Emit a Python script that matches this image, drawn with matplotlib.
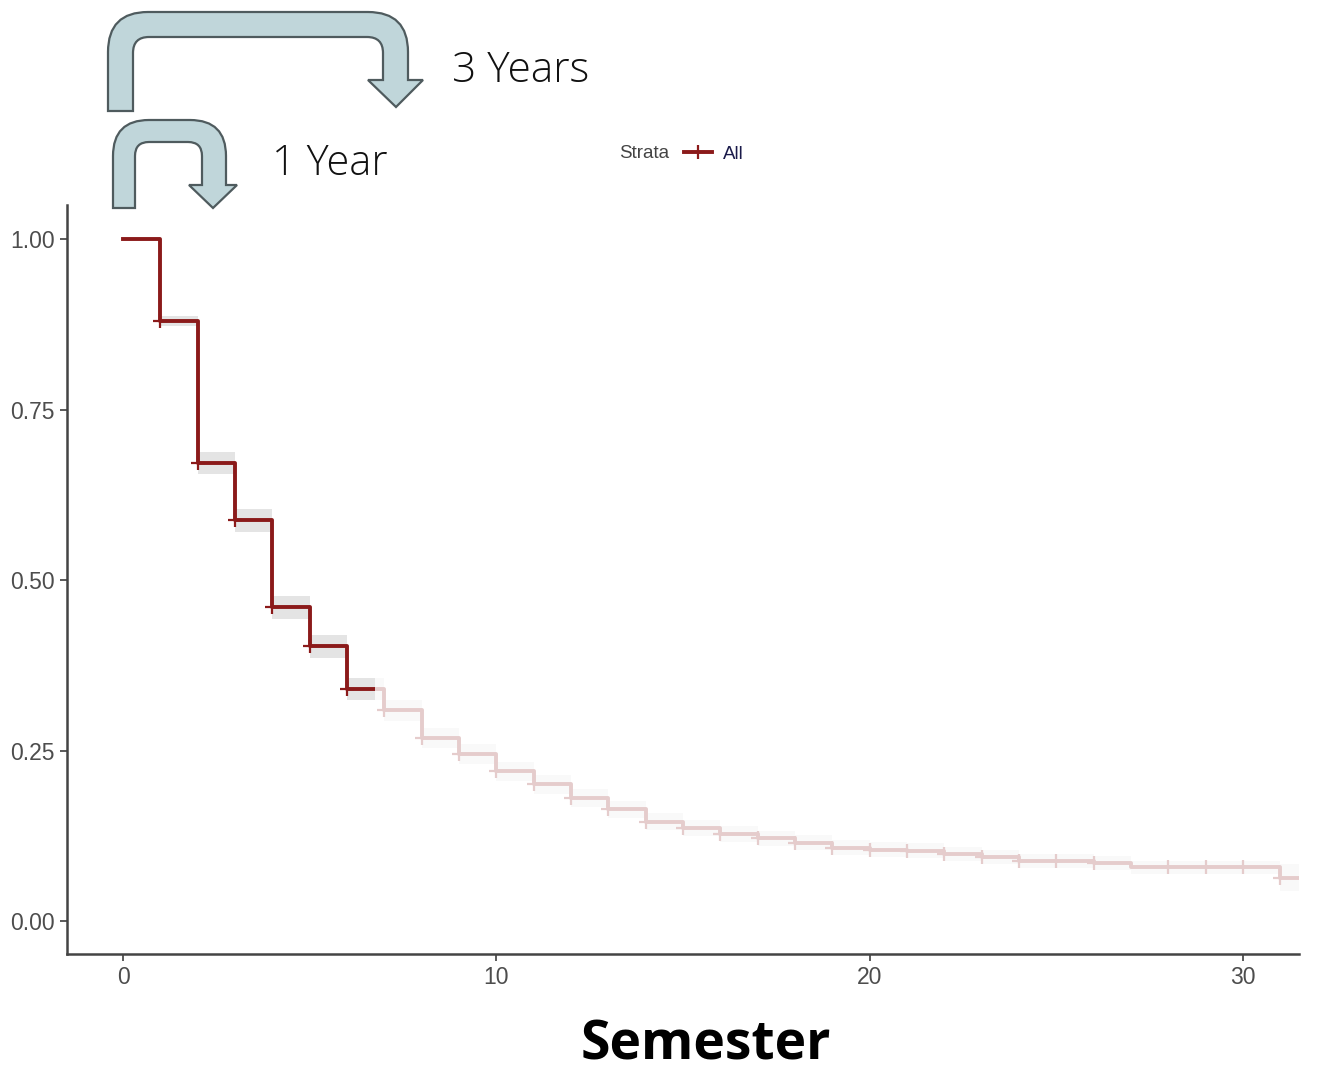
import matplotlib.pyplot as plt
import numpy as np
from matplotlib.path import Path
from matplotlib.patches import PathPatch
from matplotlib.lines import Line2D

# Kaplan-Meier estimate per semester
times = [0, 1, 2, 3, 4, 5, 6, 7, 8, 9, 10, 11, 12, 13, 14, 15,
         16, 17, 18, 19, 20, 21, 22, 23, 24, 25, 26, 27, 28, 29, 30, 31]
surv = [1.00, 0.880, 0.672, 0.588, 0.460, 0.403, 0.340, 0.309, 0.269, 0.245,
        0.220, 0.201, 0.181, 0.164, 0.146, 0.137, 0.128, 0.122, 0.115, 0.108,
        0.105, 0.103, 0.099, 0.094, 0.088, 0.088, 0.085, 0.079, 0.079, 0.079,
        0.079, 0.064]
ci_half = [0.0, 0.007, 0.016, 0.017, 0.017, 0.017, 0.016, 0.016, 0.015, 0.015,
           0.014, 0.014, 0.013, 0.013, 0.012, 0.012, 0.012, 0.011, 0.011, 0.011,
           0.011, 0.011, 0.010, 0.010, 0.010, 0.010, 0.010, 0.010, 0.010, 0.010,
           0.010, 0.020]
censor_times = [1, 2, 3, 4, 5, 6, 7, 8, 9, 10, 11, 12, 13, 14, 15, 16, 17, 18,
                19, 20, 21, 22, 23, 24, 25, 26, 28, 29, 30, 31]
t_end = 31.5
fade_start = 6.75

xticks = [0, 10, 20, 30]
yticks = [0.00, 0.25, 0.50, 0.75, 1.00]
ytick_labels = ['0.00', '0.25', '0.50', '0.75', '1.00']

W, H = 1320, 1074
line_col = '#8b1a1a'
tick_col = '#4d4d4d'

fig = plt.figure(figsize=(W / 100, H / 100), dpi=100)
ax = fig.add_axes([67 / W, 1 - 954 / H, (1299 - 67) / W, (954 - 205) / H])

t = np.array(times + [t_end])
s = np.array(surv + [surv[-1]])
h = np.array(ci_half + [ci_half[-1]])
ax.fill_between(t, s - h, s + h, step='post', color='#e4e4e4', lw=0, zorder=1)
ax.step(t, s, where='post', color=line_col, lw=2.8, zorder=2, label='All')
cs = [surv[times.index(c)] for c in censor_times]
ax.plot(censor_times, cs, ls='none', marker='+', ms=10, mew=1.6,
        color=line_col, zorder=2)

# faded part after 3 years
ax.axvspan(fade_start, t_end + 1, facecolor='white', alpha=0.78, lw=0, zorder=3)

ax.set_xlim(-1.5, t_end)
ax.set_ylim(-0.048, 1.05)
ax.set_xticks(xticks)
ax.set_yticks(yticks, ytick_labels)
for sp in ['top', 'right']:
    ax.spines[sp].set_visible(False)
for sp in ['left', 'bottom']:
    ax.spines[sp].set_color('#444444')
    ax.spines[sp].set_linewidth(1.8)
    ax.spines[sp].set_zorder(10)
ax.tick_params(colors=tick_col, length=5, width=1.3, labelsize=16.5,
               labelcolor=tick_col, pad=4)
for lab in ax.get_xticklabels() + ax.get_yticklabels():
    lab.set_family('Liberation Sans')

# legend
fig.text(619 / W, 1 - 154 / H, 'Strata', fontsize=13.5, color='#444444',
         va='center', ha='left', family='Liberation Sans')
handle = Line2D([], [], color=line_col, lw=2.8, marker='+', ms=10, mew=1.6)
fig.legend([handle], ['All'], loc='center left',
           bbox_to_anchor=(684 / W, 1 - 154 / H), frameon=False,
           handlelength=1.5, handletextpad=0.6, borderpad=0,
           borderaxespad=0, labelcolor='#1a1a4a',
           prop={'family': 'Liberation Sans', 'size': 13.5})


def px(x, y):
    return (x / W, 1 - y / H)


def bent_arrow(xo_l, xi_l, xi_r, xo_r, yo_t, yi_t, y_bot, y_head, hx_l, hx_r, tip, R, r):
    verts = [px(xo_l, y_bot), px(xo_l, yo_t + R), px(xo_l, yo_t), px(xo_l + R, yo_t),
             px(xo_r - R, yo_t), px(xo_r, yo_t), px(xo_r, yo_t + R),
             px(xo_r, y_head), px(hx_r, y_head), px(*tip), px(hx_l, y_head),
             px(xi_r, y_head), px(xi_r, yi_t + r), px(xi_r, yi_t), px(xi_r - r, yi_t),
             px(xi_l + r, yi_t), px(xi_l, yi_t), px(xi_l, yi_t + r),
             px(xi_l, y_bot), px(xo_l, y_bot)]
    codes = [Path.MOVETO, Path.LINETO, Path.CURVE3, Path.CURVE3,
             Path.LINETO, Path.CURVE3, Path.CURVE3,
             Path.LINETO, Path.LINETO, Path.LINETO, Path.LINETO,
             Path.LINETO, Path.LINETO, Path.CURVE3, Path.CURVE3,
             Path.LINETO, Path.CURVE3, Path.CURVE3,
             Path.LINETO, Path.CLOSEPOLY]
    patch = PathPatch(Path(verts, codes), facecolor='#c0d6da', edgecolor='#4f5b5e',
                      lw=1.6, transform=fig.transFigure, zorder=5)
    fig.patches.append(patch)


bent_arrow(108, 133, 383, 408, 12, 37, 111, 80, 368, 423, (396, 107), 40, 16)
bent_arrow(113, 135, 202, 226, 120, 142, 208, 185, 189, 237, (213, 208), 36, 14)

fig.text(452 / W, 1 - 71 / H, '3 Years', fontsize=30.5, family='Open Sans',
         fontweight='light', color='#111111', va='center', ha='left')
fig.text(272 / W, 1 - 164 / H, '1 Year', fontsize=30, family='Open Sans',
         fontweight='light', color='#111111', va='center', ha='left')
fig.text(706 / W, 1 - 1046 / H, 'Semester', fontsize=38.5, family='Open Sans',
         fontweight='bold', color='black', va='center', ha='center')

plt.savefig('out.png', dpi=100)
plt.close()
